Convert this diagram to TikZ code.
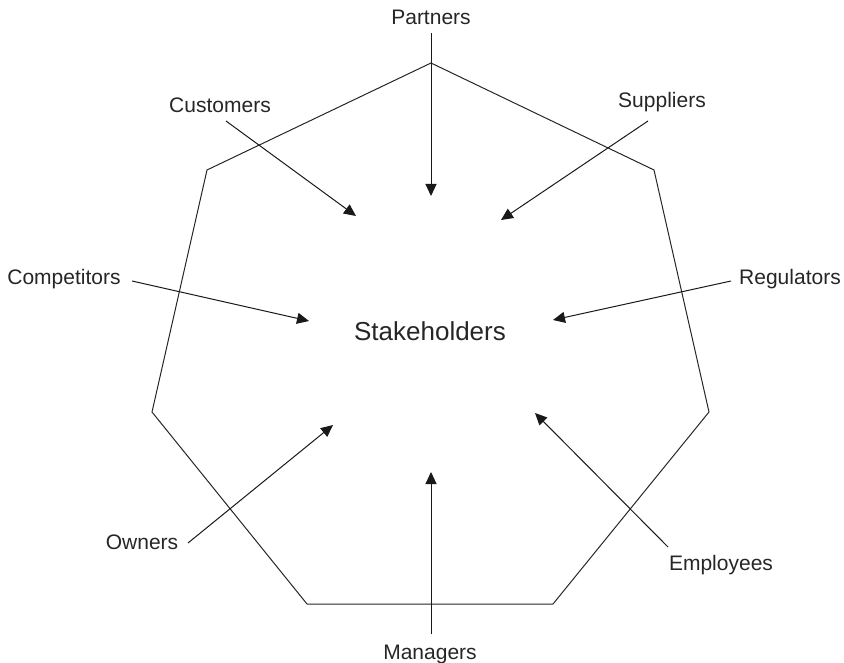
\documentclass[tikz,border=0pt]{standalone}
\usepackage{fontspec}
\setmainfont{Liberation Sans}
\usetikzlibrary{arrows.meta}
\begin{document}
\begin{tikzpicture}[x=1pt,y=-1pt,
  lbl/.style={inner sep=0pt,anchor=base,font=\fontsize{21}{25}\selectfont,text=black!85},
  edge/.style={line width=1pt,draw=black!85},
  arr/.style={line width=1pt,draw=black!90,-{Triangle[length=12pt,width=11pt]}}]
\useasboundingbox (0,0) rectangle (844,663);
% heptagon
\coordinate (h1) at (431,63);
\coordinate (h2) at (654,170);
\coordinate (h3) at (709,412);
\coordinate (h4) at (553,604);
\coordinate (h5) at (307,604);
\coordinate (h6) at (152,412);
\coordinate (h7) at (207,170);
\draw[edge,line join=miter] (h1)--(h2)--(h3)--(h4)--(h5)--(h6)--(h7)--cycle;
% labels
\node[lbl] (partners) at (431,25) {Partners};
\node[lbl] (customers) at (220,113) {Customers};
\node[lbl] (suppliers) at (662,108) {Suppliers};
\node[lbl] (competitors) at (64,285) {Competitors};
\node[lbl] (regulators) at (790,285) {Regulators};
\node[lbl,font=\fontsize{26}{30}\selectfont] (center) at (430,341) {Stakeholders};
\node[lbl] (owners) at (142,549) {Owners};
\node[lbl] (employees) at (721,570) {Employees};
\node[lbl] (managers) at (430,659) {Managers};
% arrow endpoints
\coordinate (pS) at (431,33);  \coordinate (pT) at (431,196);
\coordinate (cuS) at (226,121); \coordinate (cuT) at (356,216);
\coordinate (suS) at (648,121); \coordinate (suT) at (501,220);
\coordinate (coS) at (132,281); \coordinate (coT) at (309,321);
\coordinate (reS) at (731,281); \coordinate (reT) at (553,320);
\coordinate (owS) at (188,543); \coordinate (owT) at (333,425);
\coordinate (emS) at (668,547); \coordinate (emT) at (535,413);
\coordinate (maS) at (431,634); \coordinate (maT) at (431,472);
\draw[arr] (pS) -- (pT);
\draw[arr] (cuS) -- (cuT);
\draw[arr] (suS) -- (suT);
\draw[arr] (coS) -- (coT);
\draw[arr] (reS) -- (reT);
\draw[arr] (owS) -- (owT);
\draw[arr] (emS) -- (emT);
\draw[arr] (maS) -- (maT);
\end{tikzpicture}
\end{document}
